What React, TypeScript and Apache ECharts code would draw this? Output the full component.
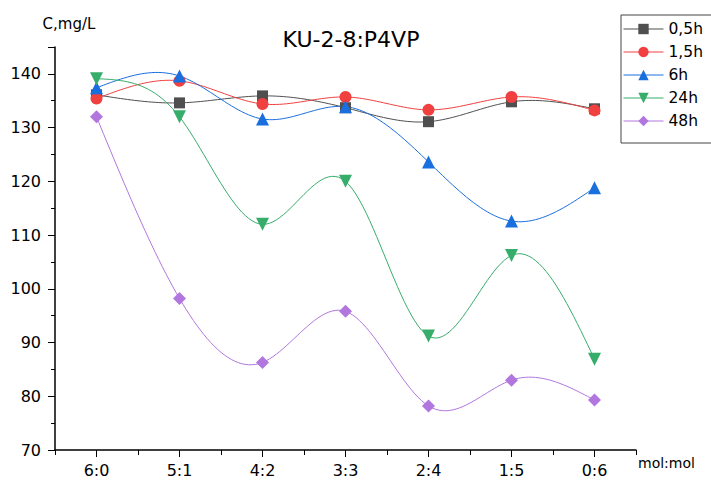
import React, { useEffect, useRef } from "react";
import * as echarts from "echarts";

const categories = ["6:0", "5:1", "4:2", "3:3", "2:4", "1:5", "0:6"];
const seriesNames = ["0,5h", "1,5h", "6h", "24h", "48h"];
const s05h = [136.1, 134.6, 135.9, 133.7, 131.1, 134.8, 133.5];
const s15h = [135.4, 138.7, 134.4, 135.7, 133.3, 135.7, 133.2];
const s6h = [137.4, 139.6, 131.6, 133.9, 123.6, 112.6, 118.8];
const s24h = [139.1, 132.0, 112.0, 120.0, 91.2, 106.2, 86.9];
const s48h = [132.0, 98.2, 86.3, 95.8, 78.2, 83.0, 79.3];
const colors = ["#4f4f4f", "#f14040", "#1a6fdf", "#37ad6b", "#b177de"];
const symbols = ["rect", "circle", "triangle", "path://M0,0 L10,0 L5,9 Z", "diamond"];
const symbolSizes = [11, 12, 13, 13, 13];

// natural cubic spline through pixel points (x increasing)
function splinePoints(pts: number[][], steps: number): number[][] {
  const n = pts.length;
  if (n < 3) return pts;
  const x = pts.map((p) => p[0]);
  const y = pts.map((p) => p[1]);
  const h: number[] = [];
  for (let i = 0; i < n - 1; i++) h.push(x[i + 1] - x[i]);
  const a: number[] = new Array(n).fill(0);
  const b: number[] = new Array(n).fill(0);
  const c: number[] = new Array(n).fill(0);
  const r: number[] = new Array(n).fill(0);
  b[0] = 1;
  b[n - 1] = 1;
  for (let i = 1; i < n - 1; i++) {
    a[i] = h[i - 1];
    b[i] = 2 * (h[i - 1] + h[i]);
    c[i] = h[i];
    r[i] = 6 * ((y[i + 1] - y[i]) / h[i] - (y[i] - y[i - 1]) / h[i - 1]);
  }
  // Thomas algorithm
  const cp: number[] = new Array(n).fill(0);
  const dp: number[] = new Array(n).fill(0);
  cp[0] = c[0] / b[0];
  dp[0] = r[0] / b[0];
  for (let i = 1; i < n; i++) {
    const m = b[i] - a[i] * cp[i - 1];
    cp[i] = c[i] / m;
    dp[i] = (r[i] - a[i] * dp[i - 1]) / m;
  }
  const M: number[] = new Array(n).fill(0);
  M[n - 1] = dp[n - 1];
  for (let i = n - 2; i >= 0; i--) M[i] = dp[i] - cp[i] * M[i + 1];
  const out: number[][] = [];
  for (let i = 0; i < n - 1; i++) {
    for (let s = 0; s < steps; s++) {
      const t = s / steps;
      const xx = x[i] + t * h[i];
      const A = 1 - t;
      const B = t;
      const yy =
        A * y[i] +
        B * y[i + 1] +
        ((A * A * A - A) * M[i] + (B * B * B - B) * M[i + 1]) * (h[i] * h[i]) / 6;
      out.push([xx, yy]);
    }
  }
  out.push([x[n - 1], y[n - 1]]);
  return out;
}

export default function App() {
  const ref = useRef<HTMLDivElement>(null);
  useEffect(() => {
    if (!ref.current) return;
    const chart = echarts.init(ref.current, null, { renderer: "svg" });
    const font = "DejaVu Sans";
    const dataSets = [s05h, s15h, s6h, s24h, s48h];
    const curveSeries = dataSets.map((d, i) => ({
      name: seriesNames[i] + "_curve",
      type: "custom",
      coordinateSystem: "cartesian2d",
      silent: true,
      z: 1,
      data: [[0, d[0]]],
      renderItem: (params: any, api: any) => {
        const pts = d.map((v, k) => api.coord([k, v]));
        return {
          type: "polyline",
          shape: { points: splinePoints(pts, 24) },
          style: { stroke: colors[i], lineWidth: 1, fill: null },
        };
      },
    }));
    const markerSeries = dataSets.map((d, i) => ({
      name: seriesNames[i],
      type: "line",
      data: d,
      z: 3,
      symbol: symbols[i],
      symbolSize: symbolSizes[i],
      showAllSymbol: true,
      itemStyle: { color: colors[i] },
      lineStyle: { color: colors[i], width: 1, opacity: 0 },
    }));
    chart.setOption({
      animation: false,
      textStyle: { fontFamily: font },
      title: {
        text: "KU-2-8:P4VP",
        left: 346,
        top: 23,
        textAlign: "center",
        textStyle: { fontFamily: font, fontSize: 22, fontWeight: "normal", color: "#000" },
      },
      legend: {
        orient: "vertical",
        left: 621,
        top: 15,
        itemWidth: 40,
        itemHeight: 13,
        itemGap: 7,
        padding: [6, 30, 14, 2],
        borderColor: "#444",
        borderWidth: 1,
        lineStyle: { opacity: 1, width: 1 },
        textStyle: { fontFamily: font, fontSize: 15.5, color: "#000" },
        data: seriesNames,
      },
      grid: { left: 55, right: 75, top: 47, bottom: 31, containLabel: false },
      xAxis: [
        {
          type: "category",
          data: categories,
          boundaryGap: true,
          name: "mol:mol",
          nameLocation: "end",
          nameGap: 2,
          nameTextStyle: { fontFamily: font, fontSize: 14, color: "#000", verticalAlign: "top", padding: [6, 0, 0, 0] },
          axisLine: { lineStyle: { color: "#000", width: 1.5 } },
          axisTick: { show: true, alignWithLabel: false, length: 5, inside: false, lineStyle: { color: "#000" } },
          axisLabel: { fontFamily: font, fontSize: 16, color: "#000", margin: 12 },
        },
        {
          type: "category",
          data: categories,
          boundaryGap: true,
          position: "bottom",
          axisLine: { show: false },
          axisTick: { show: true, alignWithLabel: true, length: 7, lineStyle: { color: "#000" } },
          axisLabel: { show: false },
        },
      ],
      yAxis: {
        type: "value",
        min: 70,
        max: 145,
        interval: 10,
        name: "C,mg/L",
        nameLocation: "end",
        nameGap: 16,
        nameTextStyle: { fontFamily: font, fontSize: 15, color: "#000", align: "center", padding: [0, 0, 0, 28] },
        axisLine: { show: true, lineStyle: { color: "#000", width: 1.5 } },
        axisTick: { show: true, length: 7, lineStyle: { color: "#000" } },
        minorTick: { show: true, splitNumber: 2, length: 4, lineStyle: { color: "#000" } },
        splitLine: { show: false },
        axisLabel: {
          fontFamily: font,
          fontSize: 16,
          color: "#000",
          margin: 14,
          formatter: (v: number) => (v === 145 ? "" : String(v)),
        },
      },
      series: [...curveSeries, ...markerSeries],
    });
    return () => chart.dispose();
  }, []);
  return <div ref={ref} style={{ width: 711, height: 481, position: "absolute", left: 0, top: 0 }} />;
}
